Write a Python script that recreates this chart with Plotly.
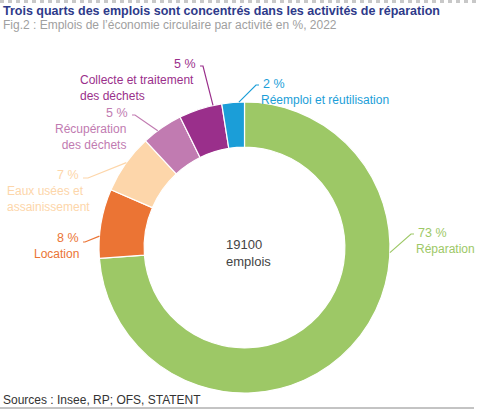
import math
import plotly.graph_objects as go

# données (part des emplois, %)
activites = ["Réparation", "Location", "Eaux usées et assainissement",
             "Récupération des déchets", "Collecte et traitement des déchets",
             "Réemploi et réutilisation"]
parts = [73.8, 7.7, 6.6, 4.6, 4.8, 2.5]
etiquettes_pct = ["73 %", "8 %", "7 %", "5 %", "5 %", "2 %"]
etiquettes_nom = ["Réparation", "Location", "Eaux usées et<br>assainissement",
                  "Récupération<br>des déchets", "Collecte et traitement<br>des déchets",
                  "Réemploi et réutilisation"]
couleurs = ["#9DC866", "#EB7434", "#FDD6AA", "#C17BB1", "#9A2F8B", "#1B9ED8"]
total_emplois = "19100"

W, H = 480, 412
CX, CY, R = 244.5, 247.5, 145.5
FONT = "Liberation Sans"


def px(x, y):
    return x / W, 1 - y / H


fig = go.Figure()
fig.add_trace(go.Pie(
    labels=activites, values=parts, sort=False, direction="clockwise",
    rotation=0, hole=0.69, textinfo="none", hoverinfo="label+percent",
    marker=dict(colors=couleurs, line=dict(color="white", width=1.2)),
    domain=dict(x=[(CX - R) / W, (CX + R) / W], y=[1 - (CY + R) / H, 1 - (CY - R) / H]),
    showlegend=False,
))

# placement des étiquettes : angle du point d'accroche (degrés depuis midi),
# coude du trait, position du texte, alignement
placement = [
    (92, (411, 234), (416, 233), "left"),
    (274.5, (85, 242), (81, 238), "right"),
    (305.7, (88, 178), (81, 175), "right"),
    (323.4, (135, 115), (130, 113), "right"),
    (347.5, (203, 66), (198, 64), "right"),
    (357.8, (256, 85), (261, 84), "left"),
]
nom_x = [414, 81, 5, 128, 78, 259]
nom_align = ["left", "right", "left", "right", "left", "left"]

annotations = []
shapes = []
for i, (ang, coude, pos, align) in enumerate(placement):
    a = math.radians(ang)
    ex, ey = CX + R * math.sin(a), CY - R * math.cos(a)
    tx = pos[0] + (2 if align == "right" else -2)
    p0, p1, p2 = px(tx, coude[1]), px(*coude), px(ex, ey)
    shapes.append(dict(type="path", xref="paper", yref="paper",
                       path=f"M {p0[0]} {p0[1]} L {p1[0]} {p1[1]} L {p2[0]} {p2[1]}",
                       line=dict(color=couleurs[i], width=1.2)))
    x, y = px(*pos)
    annotations.append(dict(x=x, y=y, xref="paper", yref="paper", text=etiquettes_pct[i],
                            showarrow=False, xanchor=align, yanchor="middle",
                            font=dict(family=FONT, size=12.5, color=couleurs[i])))
    x2, y2 = px(nom_x[i], pos[1] + 7)
    annotations.append(dict(x=x2, y=y2, xref="paper", yref="paper", text=etiquettes_nom[i],
                            showarrow=False, xanchor=nom_align[i], yanchor="top", align=nom_align[i],
                            font=dict(family=FONT, size=12, color=couleurs[i])))

annotations += [
    dict(x=px(224, 0)[0], y=px(0, 253)[1], xref="paper", yref="paper",
         text=f"{total_emplois}<br>emplois", showarrow=False, xanchor="left", align="left",
         font=dict(family=FONT, size=13, color="#444444")),
    dict(x=px(1, 0)[0], y=px(0, 11)[1], xref="paper", yref="paper",
         text="<b>Trois quarts des emplois sont concentrés dans les activités de réparation</b>",
         showarrow=False, xanchor="left", yanchor="middle",
         font=dict(family=FONT, size=12.5, color="#2E3A8A")),
    dict(x=px(1, 0)[0], y=px(0, 25)[1], xref="paper", yref="paper",
         text="Fig.2 : Emplois de l’économie circulaire par activité en %, 2022",
         showarrow=False, xanchor="left", yanchor="middle",
         font=dict(family=FONT, size=12, color="#A0A0A0")),
    dict(x=px(1, 0)[0], y=px(0, 400)[1], xref="paper", yref="paper",
         text="Sources : Insee, RP; OFS, STATENT",
         showarrow=False, xanchor="left", yanchor="middle",
         font=dict(family=FONT, size=12, color="#333333")),
]

shapes += [
    dict(type="line", xref="paper", yref="paper", x0=0, x1=1, y0=px(0, 1.5)[1], y1=px(0, 1.5)[1],
         line=dict(color="#C8C8C8", width=3, dash="4px,4px")),
    dict(type="line", xref="paper", yref="paper", x0=0, x1=px(474, 0)[0], y0=px(0, 408)[1], y1=px(0, 408)[1],
         line=dict(color="#888888", width=1)),
]

fig.update_layout(width=W, height=H, margin=dict(l=0, r=0, t=0, b=0),
                  paper_bgcolor="white", plot_bgcolor="white",
                  annotations=annotations, shapes=shapes)
fig.write_html("out.html", config={"displayModeBar": False},
               post_script="document.body.style.margin='0';")
